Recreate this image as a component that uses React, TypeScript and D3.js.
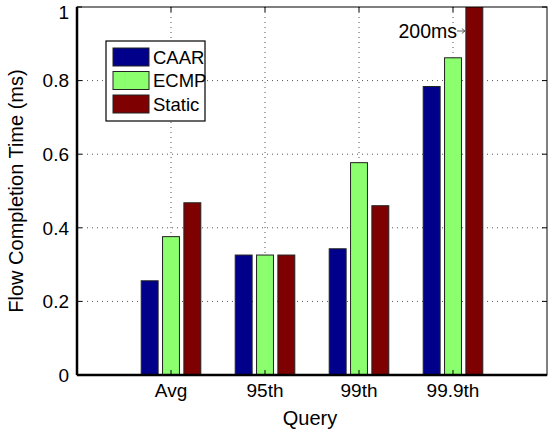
import React, { useRef, useEffect } from 'react';
import * as d3 from 'd3';

const categories = ['Avg', '95th', '99th', '99.9th'];
const seriesNames = ['CAAR', 'ECMP', 'Static'];
const seriesColors = ['#00008b', '#8cff6e', '#7f0000'];
const caar = [0.256, 0.326, 0.343, 0.784];
const ecmp = [0.376, 0.326, 0.577, 0.862];
const staticVals = [0.468, 0.326, 0.46, 1.2];
const yTicks = [0, 0.2, 0.4, 0.6, 0.8, 1];

const W = 548;
const H = 435;

function Chart() {
  const svgRef = useRef<SVGSVGElement>(null);

  useEffect(() => {
    const root = d3.select(svgRef.current);
    root.selectAll('*').remove();

    const left = 77, right = 547, top = 7, bottom = 375;
    const font = '"Liberation Sans", Arial, Helvetica, sans-serif';

    const x = d3.scaleLinear().domain([0, 5]).range([left, right]);
    const y = d3.scaleLinear().domain([0, 1]).range([bottom, top]);
    const series = [caar, ecmp, staticVals];

    const svg = root.attr('width', W).attr('height', H).style('font-family', font);

    svg.append('rect').attr('width', W).attr('height', H).attr('fill', '#fff');

    // dotted grid
    const grid = svg.append('g').attr('stroke', '#555').attr('stroke-width', 1).attr('stroke-dasharray', '1,4');
    yTicks.slice(1, -1).forEach(t => {
      grid.append('line').attr('x1', left).attr('x2', right).attr('y1', y(t)).attr('y2', y(t));
    });
    categories.forEach((c, i) => {
      grid.append('line').attr('x1', x(i + 1)).attr('x2', x(i + 1)).attr('y1', top).attr('y2', bottom);
    });

    // bars
    svg.append('clipPath').attr('id', 'plotclip')
      .append('rect').attr('x', left).attr('y', top).attr('width', right - left).attr('height', bottom - top);

    const barW = 0.18;
    const offset = 0.227;
    const bars = svg.append('g').attr('clip-path', 'url(#plotclip)');
    series.forEach((vals, s) => {
      vals.forEach((v, i) => {
        const cx = i + 1 + (s - 1) * offset;
        bars.append('rect')
          .attr('x', x(cx - barW / 2))
          .attr('y', y(v))
          .attr('width', x(barW) - x(0))
          .attr('height', y(0) - y(v))
          .attr('fill', seriesColors[s])
          .attr('stroke', '#222')
          .attr('stroke-width', 1);
      });
    });

    // frame
    svg.append('rect').attr('x', left).attr('y', top).attr('width', right - left).attr('height', bottom - top)
      .attr('fill', 'none').attr('stroke', '#000').attr('stroke-width', 1);
    svg.append('line').attr('x1', left).attr('x2', right).attr('y1', bottom).attr('y2', bottom)
      .attr('stroke', '#000').attr('stroke-width', 2.5);
    svg.append('line').attr('x1', left).attr('x2', left).attr('y1', top).attr('y2', bottom)
      .attr('stroke', '#000').attr('stroke-width', 2.5);

    // ticks
    const tk = svg.append('g').attr('stroke', '#000').attr('stroke-width', 1);
    yTicks.forEach(t => {
      tk.append('line').attr('x1', left).attr('x2', left + 5).attr('y1', y(t)).attr('y2', y(t));
      tk.append('line').attr('x1', right).attr('x2', right - 5).attr('y1', y(t)).attr('y2', y(t));
    });
    categories.forEach((c, i) => {
      tk.append('line').attr('x1', x(i + 1)).attr('x2', x(i + 1)).attr('y1', bottom).attr('y2', bottom - 5);
      tk.append('line').attr('x1', x(i + 1)).attr('x2', x(i + 1)).attr('y1', top).attr('y2', top + 5);
    });

    // tick labels (top label nudged down so it stays inside the figure)
    yTicks.forEach(t => {
      const ty = t === 1 ? y(t) + 5 : y(t);
      svg.append('text').attr('x', left - 8).attr('y', ty).attr('dy', '0.36em')
        .attr('text-anchor', 'end').style('font-size', '19px').text(String(t));
    });
    categories.forEach((c, i) => {
      svg.append('text').attr('x', x(i + 1)).attr('y', 397)
        .attr('text-anchor', 'middle').style('font-size', '19px').text(c);
    });

    // axis labels
    svg.append('text').attr('x', (left + right) / 2 - 2).attr('y', 425)
      .attr('text-anchor', 'middle').style('font-size', '20px').text('Query');
    svg.append('text').attr('transform', `translate(23,${(top + bottom) / 2}) rotate(-90)`)
      .attr('text-anchor', 'middle').style('font-size', '20px').text('Flow Completion Time (ms)');

    // annotation
    const barLeft = x(4 + offset - barW / 2);
    svg.append('text').attr('x', 457).attr('y', 38).attr('text-anchor', 'end')
      .style('font-size', '19.5px').text('200ms');
    svg.append('line').attr('x1', 457).attr('x2', barLeft - 1).attr('y1', 31).attr('y2', 31)
      .attr('stroke', '#333').attr('stroke-width', 0.8);
    svg.append('path').attr('d', `M${barLeft - 4},28.5 L${barLeft - 1},31 L${barLeft - 4},33.5`)
      .attr('fill', 'none').attr('stroke', '#333').attr('stroke-width', 0.8);

    // legend
    const lg = svg.append('g').attr('transform', 'translate(106,41)');
    lg.append('rect').attr('width', 99).attr('height', 80).attr('fill', '#fff')
      .attr('stroke', '#000').attr('stroke-width', 1.2);
    seriesNames.forEach((n, i) => {
      lg.append('rect').attr('x', 7).attr('y', 7 + i * 23.5).attr('width', 36).attr('height', 18)
        .attr('fill', seriesColors[i]).attr('stroke', '#222').attr('stroke-width', 1);
      lg.append('text').attr('x', 47).attr('y', 16 + i * 23.5).attr('dy', '0.36em')
        .style('font-size', '18.5px').text(n);
    });
  }, []);

  return <svg ref={svgRef} style={{ position: 'absolute', left: 0, top: 0 }} />;
}

export default function App() {
  return <Chart />;
}
